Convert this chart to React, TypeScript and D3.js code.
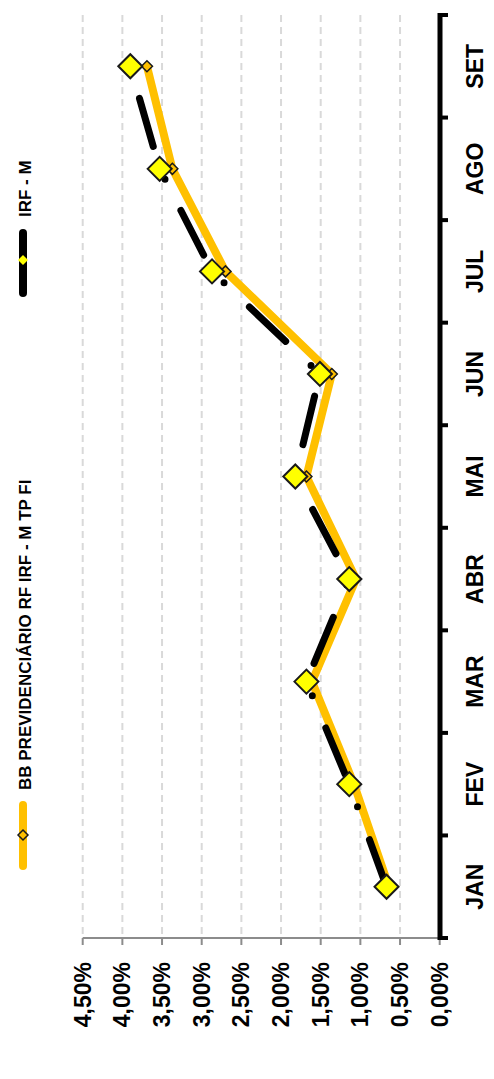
import React from "react";
import * as d3 from "d3";

const categories = ["JAN", "FEV", "MAR", "ABR", "MAI", "JUN", "JUL", "AGO", "SET"];
const bbValues = [0.64, 1.08, 1.61, 1.055, 1.68, 1.36, 2.7, 3.37, 3.69];
const irfmValues = [0.67, 1.14, 1.68, 1.14, 1.82, 1.51, 2.87, 3.53, 3.9];
const valueTicks = [0, 0.5, 1, 1.5, 2, 2.5, 3, 3.5, 4, 4.5];
const seriesNames = ["BB PREVIDENCIÁRIO RF IRF - M TP FI", "IRF - M"];

const W = 494;
const H = 1079;
const AXIS_FONT = "'Liberation Sans Narrow', 'Liberation Sans', Arial, sans-serif";
const LEGEND_FONT = "'Liberation Sans', Arial, sans-serif";

export default function App() {
  const x = d3.scaleLinear().domain([0, 4.5]).range([439.7, 82.7]);
  const y = d3.scaleBand<string>().domain(categories).range([938, 15]).padding(0);
  const bw = y.bandwidth();
  const cy = (c: string) => (y(c) as number) + bw / 2;
  const fmt = (v: number) => d3.format(".2f")(v).replace(".", ",") + "%";

  const line = d3
    .line<[string, number]>()
    .x((d) => x(d[1]))
    .y((d) => cy(d[0]));

  const bbData: [string, number][] = categories.map((c, i) => [c, bbValues[i]]);
  const irData: [string, number][] = categories.map((c, i) => [c, irfmValues[i]]);

  const diamond = (cx: number, cyv: number, r: number) =>
    `M${cx - r},${cyv}L${cx},${cyv - r}L${cx + r},${cyv}L${cx},${cyv + r}Z`;

  const boundaries = d3.range(categories.length + 1).map((i) => 15 + i * bw);

  return (
    <svg
      width={W}
      height={H}
      style={{ position: "absolute", left: 0, top: 0, background: "#fff" }}
    >
      {/* gridlines */}
      {valueTicks.slice(1).map((t) => (
        <line
          key={"g" + t}
          x1={x(t)}
          x2={x(t)}
          y1={15}
          y2={938}
          stroke="#D9D9D9"
          strokeWidth={2}
          strokeDasharray="7 5"
        />
      ))}
      {/* value axis */}
      <line x1={x(4.5)} x2={x(0)} y1={938} y2={938} stroke="#8C8C8C" strokeWidth={2} />
      {valueTicks.map((t) => (
        <line key={"vt" + t} x1={x(t)} x2={x(t)} y1={938} y2={945} stroke="#8C8C8C" strokeWidth={2} />
      ))}
      {valueTicks.map((t) => (
        <text
          key={"vl" + t}
          transform={`translate(${x(t) + 8},962) rotate(-90)`}
          textAnchor="end"
          fontFamily={AXIS_FONT}
          fontWeight="bold"
          fontSize={23}
          fill="#000"
        >
          {fmt(t)}
        </text>
      ))}

      {/* category axis */}
      <line x1={440} x2={440} y1={13} y2={940} stroke="#000" strokeWidth={5} />
      {boundaries.map((b, i) => (
        <line key={"ct" + i} x1={440} x2={448} y1={b} y2={b} stroke="#000" strokeWidth={4} />
      ))}
      {categories.map((c) => (
        <text
          key={"cl" + c}
          transform={`translate(483,${cy(c)}) rotate(-90)`}
          textAnchor="middle"
          fontFamily={AXIS_FONT}
          fontWeight="bold"
          fontSize={23}
          fill="#000"
        >
          {c}
        </text>
      ))}

      {/* BB series */}
      <path
        d={line(bbData) || ""}
        fill="none"
        stroke="#FFC000"
        strokeWidth={8}
        strokeLinejoin="round"
        strokeLinecap="round"
      />
      {bbData.map((d) => (
        <path
          key={"bm" + d[0]}
          d={diamond(x(d[1]), cy(d[0]), 5.5)}
          fill="#FFC000"
          stroke="#1a1a1a"
          strokeWidth={1.5}
        />
      ))}

      {/* IRF-M series */}
      <path
        d={line(irData) || ""}
        fill="none"
        stroke="#000"
        strokeWidth={7}
        strokeLinejoin="round"
        strokeLinecap="round"
        strokeDasharray="50 35 0 35"
      />
      {irData.map((d) => (
        <path
          key={"im" + d[0]}
          d={diamond(x(d[1]), cy(d[0]), 12)}
          fill="#FFFF00"
          stroke="#1a1a1a"
          strokeWidth={2}
        />
      ))}

      {/* legend */}
      <line x1={23} x2={23} y1={805} y2={866} stroke="#FFC000" strokeWidth={8} strokeLinecap="round" />
      <path d={diamond(23, 835, 5)} fill="#FFC000" stroke="#1a1a1a" strokeWidth={1.5} />
      <text
        transform="translate(30.5,790) rotate(-90)"
        textAnchor="start"
        fontFamily={LEGEND_FONT}
        fontWeight="bold"
        fontSize={17}
        fill="#000"
      >
        {seriesNames[0]}
      </text>

      <line x1={23} x2={23} y1={233} y2={293} stroke="#000" strokeWidth={8} strokeLinecap="round" />
      <path d={diamond(23, 260, 5)} fill="#FFFF00" stroke="none" />
      <text
        transform="translate(30.5,217) rotate(-90)"
        textAnchor="start"
        fontFamily={LEGEND_FONT}
        fontWeight="bold"
        fontSize={17}
        fill="#000"
      >
        {seriesNames[1]}
      </text>
    </svg>
  );
}
